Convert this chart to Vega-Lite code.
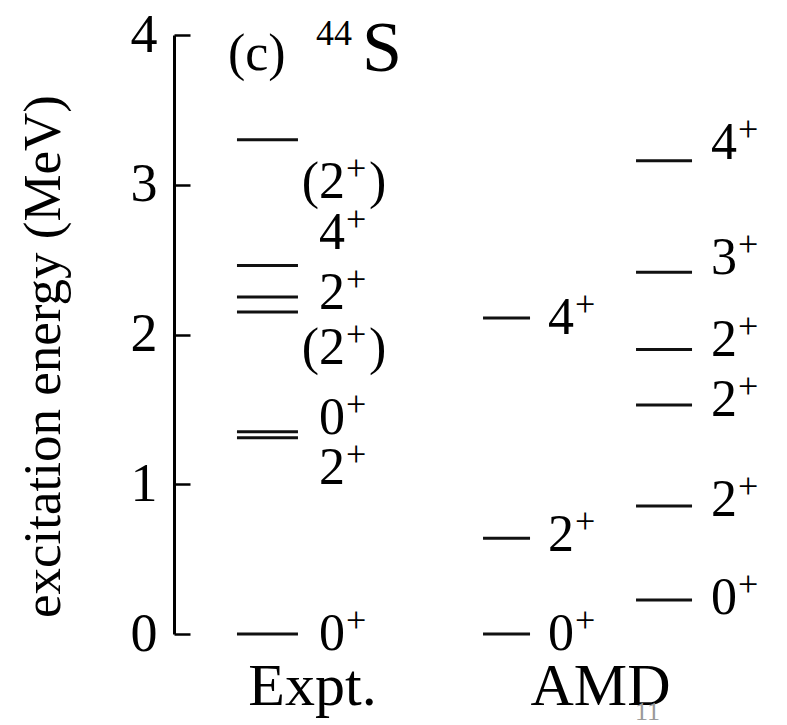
{
  "$schema": "https://vega.github.io/schema/vega-lite/v6.json",
  "width": 564,
  "height": 599,
  "autosize": "none",
  "padding": {"left": 174, "top": 35, "right": 49, "bottom": 91},
  "background": "white",
  "config": {
    "view": {"stroke": null},
    "font": "'Liberation Serif', 'Times New Roman', serif",
    "text": {"font": "'Liberation Serif', 'Times New Roman', serif", "color": "#000"}
  },
  "data": {
    "values": [
      {"method": "Expt.", "col": "Expt", "E": 3.30, "base": "(2", "post": ")", "labelE": 3.02},
      {"method": "Expt.", "col": "Expt", "E": 2.46, "base": "4", "post": "", "labelE": 2.68},
      {"method": "Expt.", "col": "Expt", "E": 2.25, "base": "2", "post": "", "labelE": 2.28},
      {"method": "Expt.", "col": "Expt", "E": 2.15, "base": "(2", "post": ")", "labelE": 1.91},
      {"method": "Expt.", "col": "Expt", "E": 1.35, "base": "0", "post": "", "labelE": 1.44},
      {"method": "Expt.", "col": "Expt", "E": 1.31, "base": "2", "post": "", "labelE": 1.11},
      {"method": "Expt.", "col": "Expt", "E": 0.0, "base": "0", "post": "", "labelE": 0.0},
      {"method": "AMD", "col": "AMD-a", "E": 2.11, "base": "4", "post": "", "labelE": 2.11},
      {"method": "AMD", "col": "AMD-a", "E": 0.64, "base": "2", "post": "", "labelE": 0.66},
      {"method": "AMD", "col": "AMD-a", "E": 0.0, "base": "0", "post": "", "labelE": 0.0},
      {"method": "AMD", "col": "AMD-b", "E": 3.16, "base": "4", "post": "", "labelE": 3.28},
      {"method": "AMD", "col": "AMD-b", "E": 2.415, "base": "3", "post": "", "labelE": 2.51},
      {"method": "AMD", "col": "AMD-b", "E": 1.90, "base": "2", "post": "", "labelE": 1.96},
      {"method": "AMD", "col": "AMD-b", "E": 1.53, "base": "2", "post": "", "labelE": 1.56},
      {"method": "AMD", "col": "AMD-b", "E": 0.855, "base": "2", "post": "", "labelE": 0.895},
      {"method": "AMD", "col": "AMD-b", "E": 0.227, "base": "0", "post": "", "labelE": 0.24}
    ]
  },
  "encoding": {
    "x": {
      "field": "method",
      "type": "nominal",
      "sort": ["Expt.", "AMD"],
      "scale": {"type": "point", "padding": 0.479},
      "axis": {
        "title": null,
        "domain": false,
        "ticks": false,
        "labelAngle": 0,
        "labelFont": "'Liberation Serif', 'Times New Roman', serif",
        "labelFontSize": 60,
        "labelColor": "#000",
        "labelPadding": 23
      }
    }
  },
  "layer": [
    {
      "transform": [{"filter": "datum.col === 'Expt'"}],
      "mark": {"type": "tick", "orient": "horizontal", "size": 61, "thickness": 3, "color": "#111", "xOffset": -44.5, "opacity": 1},
      "encoding": {
        "y": {
          "field": "E",
          "type": "quantitative",
          "scale": {"domain": [0, 4], "nice": false, "zero": false},
          "axis": {
            "title": "excitation energy (MeV)",
            "titleFont": "'Liberation Serif', 'Times New Roman', serif",
            "titleFontSize": 53,
            "titleFontWeight": "normal",
            "titleColor": "#000",
            "titlePadding": 60,
            "titleY": 321,
            "values": [0, 1, 2, 3, 4],
            "format": "d",
            "labelFont": "'Liberation Serif', 'Times New Roman', serif",
            "labelFontSize": 54,
            "labelColor": "#000",
            "labelPadding": 33,
            "tickSize": -16,
            "tickWidth": 2.5,
            "tickColor": "#000",
            "domainColor": "#000",
            "domainWidth": 3,
            "grid": false
          }
        }
      }
    },
    {
      "transform": [{"filter": "datum.col === 'AMD-a'"}],
      "mark": {"type": "tick", "orient": "horizontal", "size": 47, "thickness": 3, "color": "#111", "xOffset": -93.5, "opacity": 1},
      "encoding": {"y": {"field": "E", "type": "quantitative"}}
    },
    {
      "transform": [{"filter": "datum.col === 'AMD-b'"}],
      "mark": {"type": "tick", "orient": "horizontal", "size": 56, "thickness": 3, "color": "#111", "xOffset": 64, "opacity": 1},
      "encoding": {"y": {"field": "E", "type": "quantitative"}}
    },
    {
      "transform": [{"filter": "datum.col === 'Expt'"}],
      "mark": {"type": "text", "align": "right", "baseline": "middle", "fontSize": 52, "xOffset": 33},
      "encoding": {"y": {"field": "labelE", "type": "quantitative"}, "text": {"field": "base"}}
    },
    {
      "transform": [{"filter": "datum.col === 'Expt'"}],
      "mark": {"type": "text", "align": "left", "baseline": "middle", "fontSize": 36, "xOffset": 34, "yOffset": -13},
      "encoding": {"y": {"field": "labelE", "type": "quantitative"}, "text": {"value": "+"}}
    },
    {
      "transform": [{"filter": "datum.col === 'Expt'"}],
      "mark": {"type": "text", "align": "left", "baseline": "middle", "fontSize": 52, "xOffset": 57},
      "encoding": {"y": {"field": "labelE", "type": "quantitative"}, "text": {"field": "post"}}
    },
    {
      "transform": [{"filter": "datum.col === 'AMD-a'"}],
      "mark": {"type": "text", "align": "right", "baseline": "middle", "fontSize": 52, "xOffset": -26},
      "encoding": {"y": {"field": "labelE", "type": "quantitative"}, "text": {"field": "base"}}
    },
    {
      "transform": [{"filter": "datum.col === 'AMD-a'"}],
      "mark": {"type": "text", "align": "left", "baseline": "middle", "fontSize": 36, "xOffset": -25, "yOffset": -13},
      "encoding": {"y": {"field": "labelE", "type": "quantitative"}, "text": {"value": "+"}}
    },
    {
      "transform": [{"filter": "datum.col === 'AMD-b'"}],
      "mark": {"type": "text", "align": "right", "baseline": "middle", "fontSize": 52, "xOffset": 137},
      "encoding": {"y": {"field": "labelE", "type": "quantitative"}, "text": {"field": "base"}}
    },
    {
      "transform": [{"filter": "datum.col === 'AMD-b'"}],
      "mark": {"type": "text", "align": "left", "baseline": "middle", "fontSize": 36, "xOffset": 138, "yOffset": -13},
      "encoding": {"y": {"field": "labelE", "type": "quantitative"}, "text": {"value": "+"}}
    },
    {
      "data": {"values": [{"note": "title"}]},
      "mark": {"type": "text", "align": "left", "baseline": "alphabetic", "fontSize": 52, "xOffset": -84, "yOffset": 35},
      "encoding": {"x": {"datum": "Expt."}, "y": {"datum": 4}, "text": {"value": "(c)"}}
    },
    {
      "data": {"values": [{"note": "title"}]},
      "mark": {"type": "text", "align": "left", "baseline": "alphabetic", "fontSize": 36, "xOffset": 4, "yOffset": 10},
      "encoding": {"x": {"datum": "Expt."}, "y": {"datum": 4}, "text": {"value": "44"}}
    },
    {
      "data": {"values": [{"note": "title"}]},
      "mark": {"type": "text", "align": "left", "baseline": "alphabetic", "fontSize": 72, "xOffset": 50, "yOffset": 36},
      "encoding": {"x": {"datum": "Expt."}, "y": {"datum": 4}, "text": {"value": "S"}}
    },
    {
      "data": {"values": [{"note": "page"}]},
      "mark": {"type": "text", "align": "left", "baseline": "alphabetic", "fontSize": 26, "color": "#9a9a9a", "xOffset": 35, "yOffset": 86},
      "encoding": {"x": {"datum": "AMD"}, "y": {"datum": 0}, "text": {"value": "11"}}
    }
  ]
}
